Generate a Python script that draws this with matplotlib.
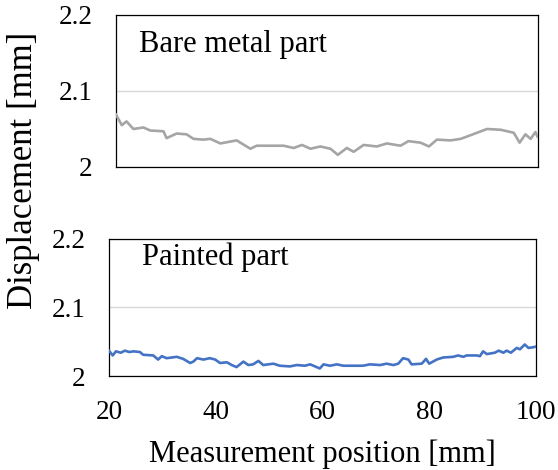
import matplotlib
matplotlib.use('Agg')
import matplotlib.pyplot as plt

plt.rcParams['font.family'] = ['Liberation Serif', 'DejaVu Serif']

# bare metal part profile
bare_pos = [20, 21.1, 22.0, 23.3, 25.2, 26.5, 29.0, 29.6, 31.5, 33.4, 34.7, 36.6,
            37.9, 39.8, 42.9, 45.5, 46.7, 51.8, 53.7, 55.3, 56.9, 58.8, 60.7, 62.1,
            63.8, 65.1, 67.0, 69.5, 71.4, 74.0, 75.5, 77.8, 79.4, 80.9, 83.5, 85.4,
            86.6, 88.5, 90.4, 93.0, 95.5, 96.6, 97.7, 98.7, 99.6, 100]
bare_disp = [2.069, 2.055, 2.060, 2.050, 2.052, 2.048, 2.047, 2.038, 2.044, 2.043,
             2.037, 2.036, 2.037, 2.031, 2.035, 2.024, 2.028, 2.028, 2.025, 2.029,
             2.024, 2.027, 2.024, 2.016, 2.025, 2.020, 2.029, 2.027, 2.031, 2.028,
             2.034, 2.032, 2.027, 2.036, 2.035, 2.037, 2.040, 2.045, 2.050, 2.049,
             2.045, 2.032, 2.043, 2.037, 2.046, 2.040]

# painted part profile
paint_pos = [20, 20.7, 21.3, 22.2, 23.0, 23.8, 24.6, 25.8, 26.4, 28.3, 29.2, 29.9,
             30.8, 32.7, 33.9, 35.2, 35.8, 36.5, 37.7, 38.9, 39.9, 40.8, 42.1, 43.0,
             43.9, 45.2, 46.1, 47.0, 48.0, 48.9, 50.8, 52.0, 53.9, 55.2, 56.7, 57.7,
             59.5, 60.2, 61.4, 62.7, 63.9, 65.8, 67.6, 68.9, 70.8, 72.0, 73.3, 74.2,
             75.1, 76.1, 76.7, 78.6, 79.4, 80.0, 81.4, 82.6, 84.5, 85.4, 86.4, 87.0,
             88.9, 89.5, 90.1, 90.8, 92.3, 93.0, 93.9, 94.5, 95.3, 96.4, 97.0, 97.9,
             98.6, 99.5, 100]
paint_disp = [2.037, 2.030, 2.036, 2.034, 2.037, 2.035, 2.036, 2.035, 2.031, 2.030,
              2.024, 2.029, 2.026, 2.028, 2.025, 2.019, 2.021, 2.026, 2.024, 2.026,
              2.024, 2.019, 2.020, 2.016, 2.013, 2.021, 2.016, 2.017, 2.022, 2.016,
              2.018, 2.015, 2.014, 2.016, 2.015, 2.017, 2.011, 2.017, 2.015, 2.017,
              2.015, 2.015, 2.015, 2.017, 2.016, 2.018, 2.016, 2.018, 2.026, 2.024,
              2.017, 2.018, 2.025, 2.018, 2.024, 2.027, 2.028, 2.030, 2.028, 2.030,
              2.030, 2.029, 2.036, 2.032, 2.034, 2.037, 2.034, 2.037, 2.034, 2.041,
              2.039, 2.046, 2.041, 2.042, 2.043]

y_ticks = [2.0, 2.1, 2.2]
y_tick_labels = ['2', '2.1', '2.2']
x_ticks = [20, 40, 60, 80, 100]

fig = plt.figure(figsize=(5.58, 4.70), dpi=100)
ax_top = fig.add_axes([0.2079, 0.6447, 0.7554, 0.3234])
ax_bot = fig.add_axes([0.1953, 0.2000, 0.7652, 0.2915])

panels = [
    (ax_top, bare_pos, bare_disp, '#a5a5a5', 'Bare metal part', 0.055, 0.757),
    (ax_bot, paint_pos, paint_disp, '#4472c4', 'Painted part', 0.077, 0.81),
]

for ax, pos, disp, color, title, tx, ty in panels:
    ax.plot(pos, disp, color=color, lw=1.9, zorder=3)
    ax.set_xlim(20, 100)
    ax.set_ylim(2.0, 2.2)
    ax.set_yticks(y_ticks)
    ax.set_yticklabels(y_tick_labels)
    ax.grid(axis='y', color='#d9d9d9', lw=1.0, zorder=0)
    ax.tick_params(axis='both', length=0, labelsize=19.5, pad=17)
    for s in ax.spines.values():
        s.set_color('#000000')
        s.set_linewidth(0.9)
    ax.text(tx, ty, title, transform=ax.transAxes, fontsize=22,
            va='baseline', ha='left')

ax_top.set_xticks(x_ticks)
ax_top.tick_params(axis='x', labelbottom=False)
ax_bot.set_xticks(x_ticks)
ax_bot.set_xticklabels([str(v) for v in x_ticks])
ax_bot.set_xlabel('Measurement position [mm]', fontsize=22, labelpad=11)

fig.text(24 / 558, 1 - 170 / 470, 'Displacement [mm]', rotation=90,
         fontsize=25, ha='center', va='center')

fig.savefig('out.png', dpi=100)
